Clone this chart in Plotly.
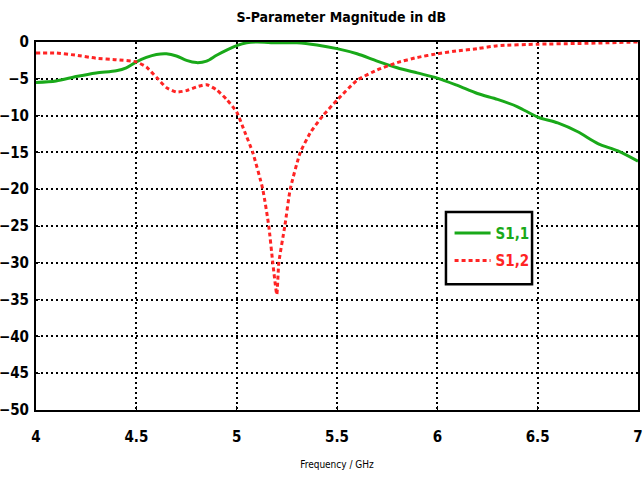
import plotly.graph_objects as go

# Frequency sweep (GHz) and S-parameter magnitudes (dB)
freq_s11 = [4.0, 4.1, 4.2, 4.3, 4.4, 4.45, 4.5, 4.55, 4.6, 4.65, 4.7, 4.75, 4.8, 4.85,
            4.9, 4.95, 5.0, 5.05, 5.1, 5.2, 5.3, 5.4, 5.5, 5.6, 5.7, 5.8, 5.9, 6.0,
            6.1, 6.2, 6.3, 6.4, 6.5, 6.6, 6.7, 6.8, 6.9, 7.0]
s11_db = [-5.5, -5.3, -4.7, -4.2, -3.9, -3.5, -2.7, -2.1, -1.7, -1.6, -1.9, -2.5, -2.8, -2.6,
          -1.8, -1.1, -0.5, -0.1, 0.0, -0.1, -0.1, -0.4, -0.9, -1.6, -2.6, -3.5, -4.2, -4.9,
          -5.9, -7.0, -7.8, -8.8, -10.2, -11.0, -12.2, -13.8, -14.8, -16.2]

freq_s12 = [4.0, 4.1, 4.2, 4.3, 4.4, 4.5, 4.55, 4.6, 4.65, 4.7, 4.75, 4.8, 4.85, 4.9,
            4.95, 5.0, 5.04, 5.08, 5.13, 5.16, 5.18, 5.2, 5.21, 5.24, 5.267, 5.317,
            5.37, 5.43, 5.5, 5.6, 5.7, 5.8, 5.9, 6.0, 6.1, 6.2, 6.3, 6.5, 6.7, 7.0]
s12_db = [-1.5, -1.5, -1.8, -2.2, -2.4, -2.7, -3.4, -4.8, -6.2, -6.8, -6.6, -6.1, -5.8, -6.5,
          -7.8, -9.5, -12.2, -15.0, -20.0, -25.0, -30.0, -34.3, -30.0, -25.0, -20.0, -15.0,
          -12.2, -10.0, -7.9, -5.2, -3.8, -2.8, -2.1, -1.6, -1.2, -0.9, -0.5, -0.3, -0.2, 0.0]

x_ticks = [4, 4.5, 5, 5.5, 6, 6.5, 7]
x_tick_text = ["4", "4.5", "5", "5.5", "6", "6.5", "7"]
y_ticks = [0, -5, -10, -15, -20, -25, -30, -35, -40, -45, -50]

GREEN = "#19a919"
RED = "#ff2424"
FONT = "DejaVu Sans Condensed, Liberation Sans Narrow, sans-serif"

fig = go.Figure()
fig.add_trace(go.Scatter(
    x=freq_s11, y=s11_db, mode="lines", line_shape="spline",
    line=dict(color=GREEN, width=3, smoothing=0.8),
    name='<span style="color:#19a919">S1,1</span>', legendgroup="s11",
))
fig.add_trace(go.Scatter(
    x=freq_s12, y=s12_db, mode="lines", line_shape="spline",
    line=dict(color=RED, width=3, dash="4px,3px", smoothing=0.5),
    name='<span style="color:#ff2424">S1,2</span>', legendgroup="s12",
))

axis_common = dict(
    showline=True, linecolor="black", linewidth=2, mirror=True,
    showgrid=True, gridcolor="black", gridwidth=1.5, griddash="2px,3px",
    zeroline=False, ticks="inside", ticklen=4, tickcolor="black",
    tickfont=dict(family=FONT, size=15, color="black", weight="bold"),
    ticklabeloverflow="allow", automargin=False,
)

# Framed legend panel
fig.add_shape(type="rect", xref="paper", yref="paper",
              x0=0.681, x1=0.824, y0=0.342, y1=0.538,
              line=dict(color="black", width=2.5), fillcolor="white", layer="above")

fig.update_layout(
    width=644, height=477,
    margin=dict(l=36, r=6, t=42, b=67),
    paper_bgcolor="white", plot_bgcolor="white",
    title=dict(text="S-Parameter Magnitude in dB", x=0.53, xanchor="center",
               y=0.965, yanchor="middle",
               font=dict(family=FONT, size=14, color="black", weight="bold")),
    xaxis=dict(range=[4, 7], tickvals=x_ticks, ticktext=x_tick_text,
               ticklabelstandoff=12,
               title=dict(text="Frequency / GHz", standoff=16,
                          font=dict(family=FONT, size=10, color="black")),
               **axis_common),
    yaxis=dict(range=[-50, 0], tickvals=y_ticks, ticklabelstandoff=2, **axis_common),
    legend=dict(x=0.687, y=0.525, xanchor="left", yanchor="top",
                bgcolor="rgba(0,0,0,0)", borderwidth=0,
                font=dict(family=FONT, size=15, color="black", weight="bold"),
                itemwidth=36, tracegroupgap=5),
    showlegend=True,
)

fig.write_html("out.html")
